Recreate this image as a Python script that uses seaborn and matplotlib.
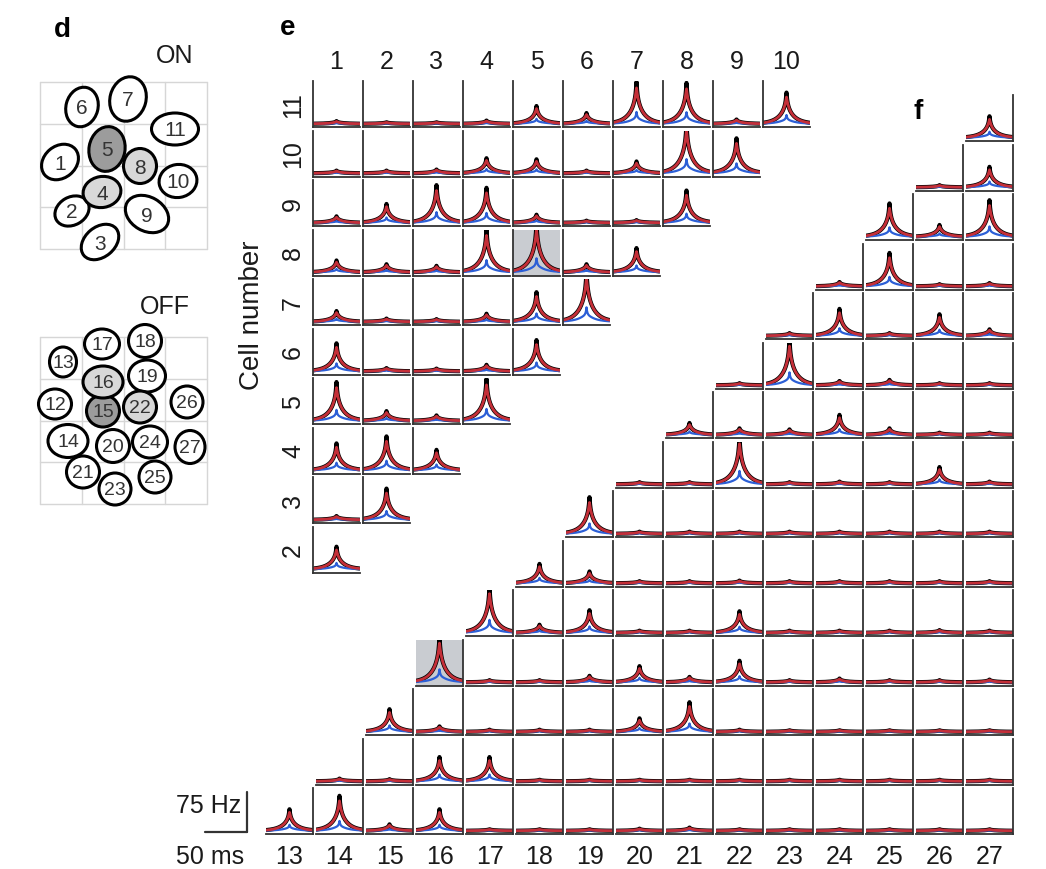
import numpy as np
import pandas as pd
import seaborn as sns
import matplotlib.pyplot as plt
from matplotlib.patches import Ellipse

sns.set_style('white')
plt.rcParams['font.family'] = ['Liberation Sans', 'DejaVu Sans']

W, H = 1046, 870

# panel d: receptive field outlines (pixel coords of the map)
on_ids = [1, 2, 3, 4, 5, 6, 7, 8, 9, 10, 11]
on_x = [60, 72, 100, 102, 107, 82, 128, 140, 147, 178, 175]
on_y = [163, 212, 243, 193, 150, 108, 100, 167, 215, 182, 130]
on_w = [40, 36, 42, 38, 36, 32, 36, 33, 46, 38, 47]
on_h = [32, 28, 30, 31, 45, 40, 45, 35, 34, 33, 32]
on_ang = [40, 30, 40, 10, -10, -15, -15, 0, -30, 10, 0]

off_ids = [12, 13, 14, 15, 16, 17, 18, 19, 20, 21, 22, 23, 24, 25, 26, 27]
off_x = [55, 63, 68, 103, 103, 102, 145, 147, 113, 83, 140, 115, 150, 155, 187, 190]
off_y = [405, 363, 442, 412, 383, 345, 342, 377, 447, 473, 408, 490, 443, 478, 403, 448]
off_w = [33, 27, 40, 33, 40, 35, 33, 37, 33, 33, 33, 32, 35, 32, 32, 30]
off_h = [30, 30, 33, 32, 32, 30, 33, 32, 33, 32, 32, 32, 32, 32, 32, 33]

dark_cells = [5, 15]
light_cells = [4, 8, 16, 22]

# panel e: peak heights (fraction of panel height), row = reference cell
on_11 = [0.05, 0.03, 0.03, 0.06, 0.33, 0.20, 0.78, 0.76, 0.08, 0.58]
on_10 = [0.05, 0.05, 0.07, 0.28, 0.26, 0.05, 0.22, 0.93, 0.65]
on_9 = [0.12, 0.35, 0.70, 0.65, 0.15, 0.04, 0.05, 0.60]
on_8 = [0.22, 0.15, 0.12, 0.80, 0.92, 0.15, 0.45]
on_7 = [0.20, 0.06, 0.05, 0.15, 0.55, 0.95]
on_6 = [0.52, 0.06, 0.05, 0.12, 0.58]
on_5 = [0.72, 0.18, 0.10, 0.78]
on_4 = [0.50, 0.63, 0.38]
on_3 = [0.07, 0.58]
on_2 = [0.42]
on_rows = [on_11, on_10, on_9, on_8, on_7, on_6, on_5, on_4, on_3, on_2]
on_row_labels = [11, 10, 9, 8, 7, 6, 5, 4, 3, 2]

# panel f: peak heights, bottom row first, each row starts at the diagonal
off_12 = [0.40, 0.65, 0.12, 0.40, 0.03, 0.03, 0.03, 0.04, 0.06, 0.03, 0.03, 0.03, 0.03, 0.03, 0.03]
off_13 = [0.05, 0.04, 0.45, 0.45, 0.03, 0.03, 0.03, 0.03, 0.03, 0.03, 0.03, 0.03, 0.03, 0.03]
off_14 = [0.42, 0.10, 0.04, 0.04, 0.04, 0.25, 0.55, 0.04, 0.03, 0.03, 0.03, 0.03, 0.03]
off_15 = [0.85, 0.04, 0.04, 0.12, 0.30, 0.10, 0.40, 0.04, 0.07, 0.04, 0.04, 0.05]
off_16 = [0.85, 0.15, 0.42, 0.04, 0.04, 0.40, 0.04, 0.04, 0.04, 0.05, 0.04]
off_17 = [0.36, 0.22, 0.04, 0.04, 0.05, 0.04, 0.04, 0.04, 0.04, 0.04]
off_18 = [0.68, 0.04, 0.04, 0.04, 0.04, 0.04, 0.04, 0.04, 0.04]
off_19 = [0.04, 0.04, 0.88, 0.04, 0.05, 0.04, 0.32, 0.05]
off_20 = [0.22, 0.12, 0.10, 0.37, 0.12, 0.04, 0.04]
off_21 = [0.04, 0.85, 0.08, 0.10, 0.04, 0.04]
off_22 = [0.05, 0.50, 0.05, 0.40, 0.12]
off_23 = [0.08, 0.62, 0.04, 0.06]
off_24 = [0.62, 0.22, 0.68]
off_25 = [0.04, 0.38]
off_26 = [0.40]
off_rows = [off_12, off_13, off_14, off_15, off_16, off_17, off_18, off_19,
            off_20, off_21, off_22, off_23, off_24, off_25, off_26]
off_col_labels = list(range(13, 28))

on_highlight = (8, 5)
off_highlight = (3, 3)

t = np.linspace(-1, 1, 241)
base = 0.07
red_c = '#c42f38'
blue_c = '#2c5fd6'
spine_c = '#333333'
text_c = '#1a1a1a'

fig = plt.figure(figsize=(W / 100, H / 100), dpi=100)

ax_d = fig.add_axes([0, 0, 1, 1])
ax_d.set_xlim(0, W)
ax_d.set_ylim(H, 0)
ax_d.axis('off')


def fr(x, y):
    return x / W, 1 - y / H


def draw_cell(x_left, y_bottom, amp, side, shaded):
    l, b = fr(x_left, y_bottom)
    ax = fig.add_axes([l, b, 47 / W, 46 / H])
    at = np.abs(t)
    df = pd.DataFrame({
        't': t,
        'black': base + amp * (0.22 * np.exp(-at / 0.03) + 0.25 * np.exp(-at / 0.09)
                               + 0.7 * np.exp(-at / 0.35)),
        'blue': base + 0.3 * amp * (0.45 * np.exp(-at / 0.03) + 0.65 * np.exp(-at / 0.35)),
        'red': base + amp * (0.28 * np.exp(-at / 0.08) + 0.72 * np.exp(-at / 0.34)),
    })
    sns.lineplot(data=df, x='t', y='black', ax=ax, color='black', lw=3.0, estimator=None)
    sns.lineplot(data=df, x='t', y='blue', ax=ax, color=blue_c, lw=1.6, estimator=None)
    sns.lineplot(data=df, x='t', y='red', ax=ax, color=red_c, lw=2.0, estimator=None)
    ax.set_xlim(-1.02, 1.02)
    ax.set_ylim(0, 1)
    ax.set(xlabel='', ylabel='', xticks=[], yticks=[])
    ax.set_facecolor('#c9ccd1' if shaded else 'none')
    for s in ['top', 'left', 'right', 'bottom']:
        ax.spines[s].set_visible(s in ('bottom', side))
        ax.spines[s].set_color(spine_c)
        ax.spines[s].set_linewidth(1.3)


# ---- panel d ----
for gy0 in [83, 338]:
    for i in range(5):
        ax_d.plot([40, 207], [gy0 + i * 41.75] * 2, color='#d6d6d6', lw=1, zorder=1)
        ax_d.plot([40 + i * 41.75] * 2, [gy0, gy0 + 167], color='#d6d6d6', lw=1, zorder=1)

ax_d.text(175, 56, 'ON', fontsize=18, ha='center', va='center', color=text_c)
ax_d.text(165, 307, 'OFF', fontsize=18, ha='center', va='center', color=text_c)

for ids, xs, ys, ws, hs, angs, fs in [
        (on_ids, on_x, on_y, on_w, on_h, on_ang, 15),
        (off_ids, off_x, off_y, off_w, off_h, [0] * len(off_ids), 14)]:
    for cid, x, y, w, h, a in zip(ids, xs, ys, ws, hs, angs):
        fc = '#9c9c9c' if cid in dark_cells else ('#d8d8d8' if cid in light_cells else 'white')
        ax_d.add_patch(Ellipse((x, y), w, h, angle=-a, facecolor=fc,
                               edgecolor='black', lw=2.2, zorder=3))
        ax_d.text(x, y + 1, str(cid), fontsize=fs, ha='center', va='center',
                  color='#333333', zorder=4)

# panel letters
ax_d.text(62, 30, 'd', fontsize=20, fontweight='bold', ha='center', va='center', color='black')
ax_d.text(288, 28, 'e', fontsize=20, fontweight='bold', ha='center', va='center', color='black')
ax_d.text(918, 112, 'f', fontsize=20, fontweight='bold', ha='center', va='center', color='black')

# ---- panel e ----
for r, (label, row) in enumerate(zip(on_row_labels, on_rows)):
    y_bottom = 128 + r * 49.5
    for c, amp in enumerate(row):
        draw_cell(313 + c * 50, y_bottom, amp, 'left', (label, c + 1) == on_highlight)
    ax_d.text(293, y_bottom - 23, str(label), fontsize=18, rotation=90,
              ha='center', va='center', color=text_c)

for c in range(10):
    ax_d.text(313 + c * 50 + 23.5, 62, str(c + 1), fontsize=18, ha='center',
              va='center', color=text_c)

ax_d.text(252, 315, 'Cell number', fontsize=20, rotation=90, ha='center',
          va='center', color=text_c)

# ---- panel f ----
for k, row in enumerate(off_rows):
    y_bottom = 835 - k * 49.5
    for i, amp in enumerate(row):
        j = k + i
        draw_cell(313 + j * 50 - 47, y_bottom, amp, 'right', (k, j) == off_highlight)

for j, lab in enumerate(off_col_labels):
    ax_d.text(313 + j * 50 - 23.5, 857, str(lab), fontsize=18, ha='center',
              va='center', color=text_c)

# scale bar
ax_d.plot([205, 247], [833, 833], color=spine_c, lw=1.6)
ax_d.plot([247, 247], [793, 833], color=spine_c, lw=1.6)
ax_d.text(241, 806, '75 Hz', fontsize=18, ha='right', va='center', color=text_c)
ax_d.text(210, 857, '50 ms', fontsize=18, ha='center', va='center', color=text_c)

fig.savefig('out.png', dpi=100)
